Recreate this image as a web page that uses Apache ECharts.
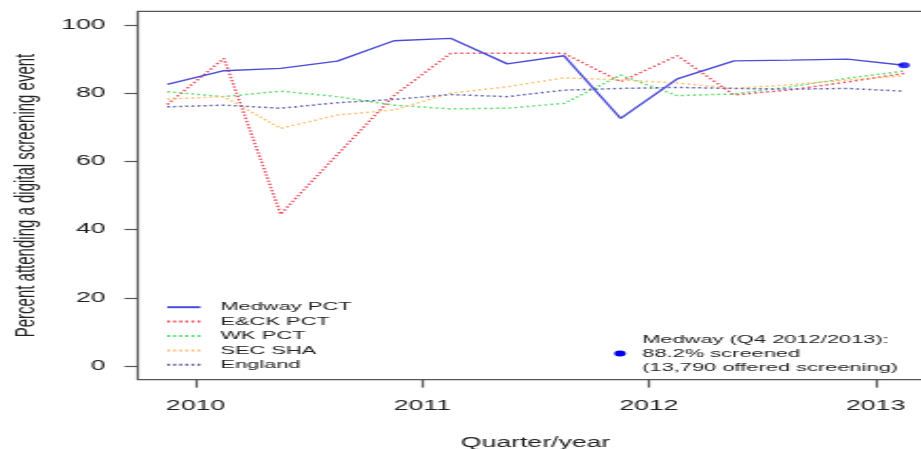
<!DOCTYPE html>
<html>
<head>
<meta charset="utf-8">
<script src="https://cdn.jsdelivr.net/npm/echarts@6/dist/echarts.min.js"></script>
<style>
  html, body { margin: 0; padding: 0; background: #fff; overflow: hidden; width: 921px; height: 449px; }
  /* The figure is drawn at a narrow width and widened horizontally as a whole */
  #chart { width: 485px; height: 449px; transform: scaleX(1.9); transform-origin: 0 0; }
</style>
</head>
<body>
<div id="chart"></div>
<script>
// Quarter mid-points (decimal years), Q3 2009/10 .. Q4 2012/13
const quarterMid = [2009.875, 2010.125, 2010.375, 2010.625, 2010.875, 2011.125, 2011.375,
                    2011.625, 2011.875, 2012.125, 2012.375, 2012.625, 2012.875, 2013.125];

// Percent attending a digital screening event, per quarter
const medway  = [82.6, 86.6, 87.3, 89.4, 95.4, 96.1, 88.6, 91.0, 72.6, 84.2, 89.5, 89.7, 90.0, 88.2];
const eck     = [76.7, 90.2, 44.5, 62.0, 79.3, 91.7, 91.7, 91.7, 83.4, 91.0, 79.5, 81.0, 83.3, 85.8];
const wk      = [80.4, 79.0, 80.6, 79.0, 76.5, 75.4, 75.6, 77.0, 85.3, 79.3, 79.8, 81.9, 84.4, 86.5];
const secSha  = [78.3, 79.0, 69.7, 73.6, 75.1, 80.0, 81.9, 84.5, 83.9, 83.0, 81.4, 82.5, 83.9, 85.1];
const england = [76.0, 76.5, 75.6, 77.2, 78.2, 79.6, 79.0, 80.9, 81.4, 81.7, 81.4, 81.2, 81.4, 80.6];

const seriesNames = ['Medway PCT', 'E&CK PCT', 'WK PCT', 'SEC SHA', 'England'];
const seriesColors = ['#4c4cd8', '#ea4452', '#52d862', '#ffbb66', '#5858aa'];

const yearTicks = [2010, 2011, 2012, 2013];
const pctTicks = [0, 20, 40, 60, 80, 100];

const noteLines = ['Medway (Q4 2012/2013):', '88.2% screened', '(13,790 offered screening)'];

const FONT = '"Liberation Sans", Arial, Helvetica, sans-serif';
const INK = '#222';
const FRAME = '#555';

function lineSeries(name, values, color, solid) {
  return {
    name: name,
    type: 'line',
    data: quarterMid.map((x, i) => [x, values[i]]),
    symbol: 'none',
    showSymbol: false,
    lineStyle: { color: color, width: solid ? 1.4 : 1.5, type: solid ? 'solid' : [1.4, 1.8], cap: 'butt' },
    itemStyle: { color: color },
    emphasis: { disabled: true },
    z: solid ? 4 : 3
  };
}

const last = quarterMid.length - 1;

const chart = echarts.init(document.getElementById('chart'), null, { renderer: 'canvas' });
chart.setOption({
  animation: false,
  backgroundColor: '#fff',
  grid: {
    left: 72.5, top: 11.4, width: 418.8, height: 368.2,
    outerBoundsMode: 'none',
    containLabel: false,
    show: true, borderColor: FRAME, borderWidth: 1.2, backgroundColor: 'transparent'
  },
  xAxis: {
    type: 'value',
    min: 2009.745, max: 2013.255,
    splitLine: { show: false },
    axisLine: { show: false, onZero: false },
    axisTick: { show: true, customValues: yearTicks, length: 8, inside: false,
                lineStyle: { color: FRAME, width: 1.2 } },
    axisLabel: { customValues: yearTicks, margin: 20, fontFamily: FONT, fontSize: 14, color: INK,
                 formatter: v => String(v) },
    name: 'Quarter/year',
    nameLocation: 'middle',
    nameGap: 57,
    nameTextStyle: { fontFamily: FONT, fontSize: 14, color: INK }
  },
  yAxis: {
    type: 'value',
    min: -4, max: 104,
    splitLine: { show: false },
    axisLine: { show: false, onZero: false },
    axisTick: { show: true, customValues: pctTicks, length: 7, inside: false,
                lineStyle: { color: FRAME, width: 1.2 } },
    axisLabel: { customValues: pctTicks, margin: 17, fontFamily: FONT, fontSize: 14, color: INK },
    name: 'Percent attending a digital screening event',
    nameLocation: 'middle',
    nameGap: 51,
    nameTextStyle: { fontFamily: FONT, fontSize: 15, color: INK }
  },
  legend: {
    orient: 'vertical',
    left: 87, top: 300,
    padding: 0,
    itemWidth: 17.5, itemHeight: 14, itemGap: 0,
    selectedMode: false,
    data: seriesNames,
    itemStyle: { opacity: 0 },
    textStyle: { fontFamily: FONT, fontSize: 11.5, lineHeight: 14.4, color: INK, padding: [0, 0, 0, 5.5] }
  },
  series: [
    lineSeries(seriesNames[0], medway, seriesColors[0], true),
    lineSeries(seriesNames[1], eck, seriesColors[1], false),
    lineSeries(seriesNames[2], wk, seriesColors[2], false),
    lineSeries(seriesNames[3], secSha, seriesColors[3], false),
    lineSeries(seriesNames[4], england, seriesColors[4], false),
    {
      name: 'Medway latest',
      type: 'scatter',
      data: [[quarterMid[last], medway[last]]],
      symbol: 'circle',
      symbolSize: 6,
      itemStyle: { color: '#0000ee' },
      emphasis: { disabled: true },
      z: 6
    }
  ],
  graphic: [
    { type: 'circle', shape: { cx: 326.3, cy: 353.5, r: 3 }, style: { fill: '#0000ee' }, z: 10 },
    { type: 'text', x: 338, y: 353.8, z: 10,
      style: { text: noteLines.join('\n'), fill: INK, font: '11.5px ' + FONT,
               lineHeight: 14, verticalAlign: 'middle', align: 'left' } }
  ]
});
</script>
</body>
</html>
